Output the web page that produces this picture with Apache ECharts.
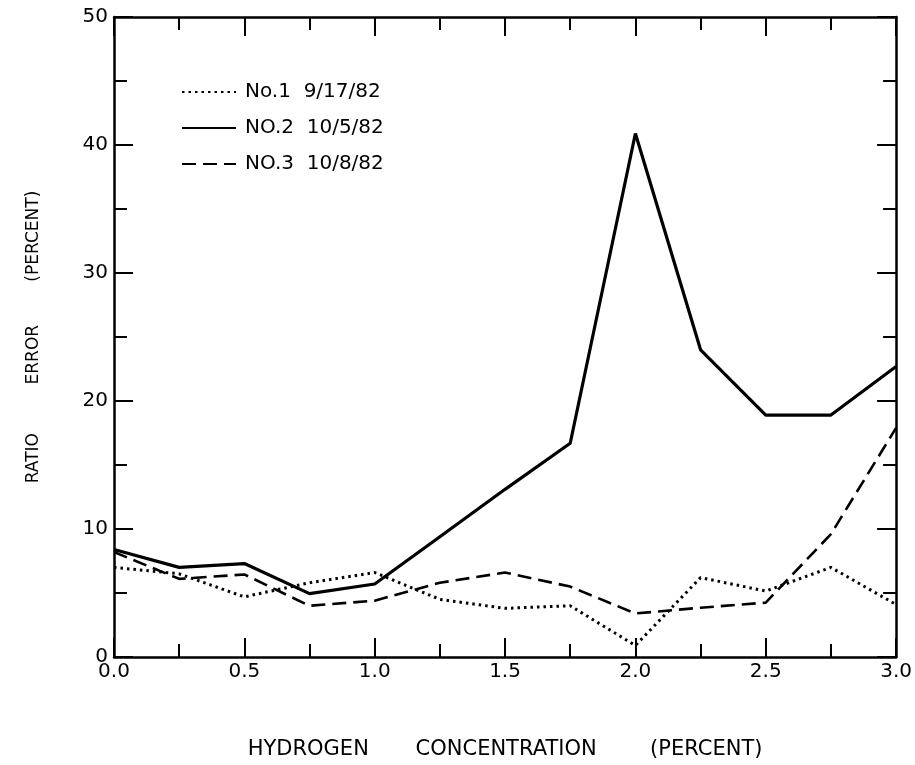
<!DOCTYPE html>
<html>
<head>
<meta charset="utf-8">
<script src="https://cdn.jsdelivr.net/npm/echarts@6/dist/echarts.min.js"></script>
<style>
html,body{margin:0;padding:0;background:#fff;}
#c{width:915px;height:765px;}
</style>
</head>
<body>
<div id="c"></div>
<script>
const concentration = [0.0, 0.25, 0.5, 0.75, 1.0, 1.25, 1.5, 1.75, 2.0, 2.25, 2.5, 2.75, 3.0];
const no1 = [7.0, 6.5, 4.7, 5.8, 6.6, 4.5, 3.8, 4.0, 0.9, 6.2, 5.15, 7.0, 4.1];
const no2 = [8.4, 7.0, 7.3, 4.95, 5.7, 9.4, 13.1, 16.7, 40.9, 24.0, 18.9, 18.9, 22.7];
const no3 = [8.2, 6.1, 6.45, 4.0, 4.4, 5.8, 6.6, 5.5, 3.4, 3.85, 4.25, 9.6, 17.9];
const seriesNames = ['No.1  9/17/82', 'NO.2  10/5/82', 'NO.3  10/8/82'];
const xTicks = [0, 0.5, 1.0, 1.5, 2.0, 2.5, 3.0];
const yTicks = [0, 10, 20, 30, 40, 50];

const font = 'DejaVu Sans';
function pairs(ys){ return concentration.map((x,i)=>[x, ys[i]]); }

const chart = echarts.init(document.getElementById('c'), null, {renderer:'canvas'});
const axisLine = {show:true, onZero:false, lineStyle:{color:'#000', width:2.5}};
const tick = {show:true, inside:true, length:19, lineStyle:{color:'#000', width:2}};
const minor = {show:true, splitNumber:2, length:13, lineStyle:{color:'#000', width:2}};
chart.setOption({
  animation:false,
  backgroundColor:'#fff',
  grid:{left:114, right:18, top:17, bottom:103},
  legend:{
    left:176, top:77, orient:'vertical', itemGap:16, itemWidth:54, itemHeight:21,
    itemStyle:{opacity:0},
    textStyle:{fontFamily:font, fontSize:20, color:'#000', padding:[0,0,0,4]},
    data:seriesNames.map(n=>({name:n}))
  },
  xAxis:[{
    type:'value', min:0, max:3, interval:0.5,
    name:'HYDROGEN       CONCENTRATION        (PERCENT)', nameLocation:'middle', nameGap:82,
    nameTextStyle:{fontFamily:font, fontSize:21, color:'#000'},
    axisLine:axisLine, axisTick:tick, minorTick:minor,
    axisLabel:{fontFamily:font, fontSize:20, color:'#000', margin:5, formatter:v=>v.toFixed(1),
      customValues: xTicks},
    splitLine:{show:false}
  },{
    type:'value', min:0, max:3, interval:0.5, position:'top',
    axisLine:axisLine, axisTick:tick, minorTick:minor,
    axisLabel:{show:false}, splitLine:{show:false}
  }],
  yAxis:[{
    type:'value', min:0, max:50, interval:10,
    name:'RATIO         ERROR        (PERCENT)', nameLocation:'middle', nameGap:72,
    nameTextStyle:{fontFamily:font, fontSize:17, color:'#000'},
    axisLine:axisLine, axisTick:tick, minorTick:minor,
    axisLabel:{fontFamily:font, fontSize:20, color:'#000', margin:6, customValues: yTicks},
    splitLine:{show:false}
  },{
    type:'value', min:0, max:50, interval:10, position:'right',
    axisLine:axisLine, axisTick:tick, minorTick:minor,
    axisLabel:{show:false}, splitLine:{show:false}
  }],
  series:[
    {name:seriesNames[0], type:'line', data:pairs(no1), symbol:'none', z:3,
     lineStyle:{color:'#000', width:3, type:[2.5,4]}, itemStyle:{color:'#000'}},
    {name:seriesNames[1], type:'line', data:pairs(no2), symbol:'none', z:4,
     lineStyle:{color:'#000', width:3.2, type:'solid'}, itemStyle:{color:'#000'}},
    {name:seriesNames[2], type:'line', data:pairs(no3), symbol:'none', z:3,
     lineStyle:{color:'#000', width:2.6, type:[14,7]}, itemStyle:{color:'#000'}}
  ]
});
</script>
</body>
</html>
